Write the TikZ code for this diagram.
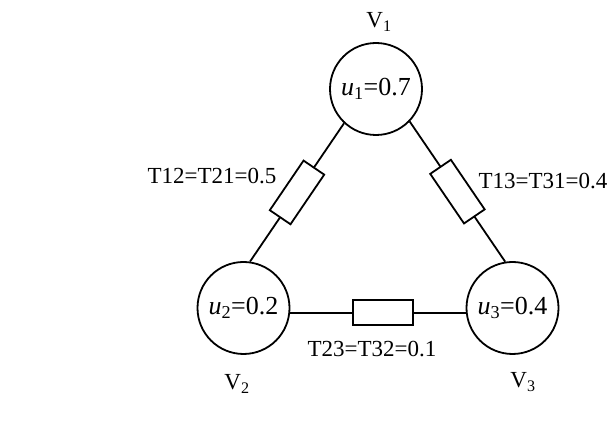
\documentclass[tikz,border=0pt]{standalone}
\usepackage{fontspec}
\setmainfont{Liberation Serif}
\usepackage{tikz}
\usetikzlibrary{positioning}
\newcommand{\uval}[2]{\textit{u}\textsubscript{#1}=#2}
\newcommand{\Vlab}[1]{V\textsubscript{#1}}

\begin{document}
\begin{tikzpicture}[x=1pt,y=-1pt,line width=1.8pt,
  vert/.style={circle,draw,minimum size=92pt,inner sep=0pt,font=\fontsize{26}{30}\selectfont},
  res/.style={draw,fill=white,minimum width=60pt,minimum height=25pt,inner sep=0pt,line width=1.8pt},
  lbl/.style={font=\fontsize{23}{27}\selectfont,inner sep=0pt}]
  \useasboundingbox (0,0) rectangle (611,427);
  % vertices
  \node[vert] (v1) at (376,89) {\uval{1}{0.7}};
  \node[vert] (v2) at (243.5,308) {\uval{2}{0.2}};
  \node[vert] (v3) at (512.5,308) {\uval{3}{0.4}};
  \node[lbl] (n1) at (379,22) {\Vlab{1}};
  \node[lbl] (n2) at (237,384) {\Vlab{2}};
  \node[lbl] (n3) at (523,382) {\Vlab{3}};
  % links with resistors
  \draw (v1.227) -- node[res,sloped] (r12) {} (v2.82);
  \draw (v1.316) -- node[res,sloped] (r13) {} (v3.99);
  \draw (v2.-6) -- node[res,pos=0.53] (r23) {} (v3.186);
  \node[lbl] (t12) at (212,176) {T12=T21=0.5};
  \node[lbl] (t13) at (543,181) {T13=T31=0.4};
  \node[lbl] (t23) at (372,349) {T23=T32=0.1};
\end{tikzpicture}
\end{document}
